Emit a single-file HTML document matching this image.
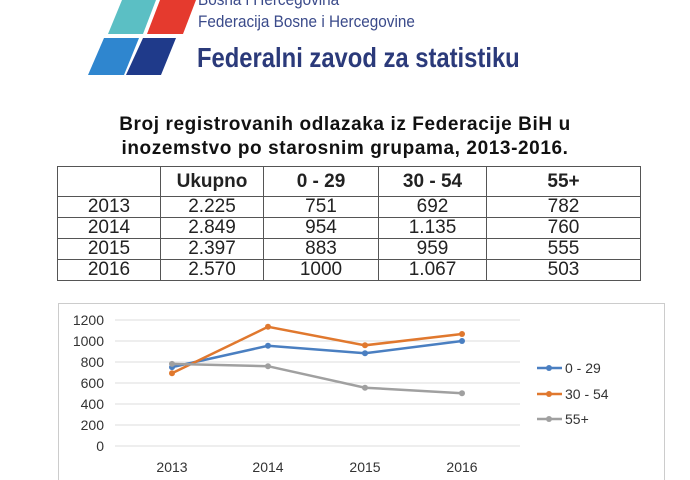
<!DOCTYPE html>
<html><head><meta charset="utf-8"><style>
body{margin:0;width:690px;height:480px;background:#fff;overflow:hidden;position:relative;font-family:"Liberation Sans",sans-serif}
.t{position:absolute;white-space:nowrap}
table{position:absolute;left:57px;top:166px;border-collapse:collapse;font-size:19px;color:#222}
td{border:1.5px solid #555;text-align:center;padding:0;height:20px;line-height:20px}
tr.h td{height:29px;font-weight:bold}
</style></head><body>
<svg width="690" height="80" style="position:absolute;left:0;top:0">
<polygon points="122,0 156,0 143,34 108,34" fill="#5bbfc4"/>
<polygon points="160,0 196,0 183,34 147,34" fill="#e53a2e"/>
<polygon points="104,38 139,38 124,75 88,75" fill="#2f86cf"/>
<polygon points="143,38 176,38 161,75 126,75" fill="#1f3a8a"/>
</svg>
<div class="t" style="left:198px;top:-10px;font-size:17px;color:#3a4a8a;transform:scaleX(0.9);transform-origin:0 0">Bosna i Hercegovina</div>
<div class="t" style="left:198px;top:12px;font-size:17px;color:#3a4a8a;transform:scaleX(0.9);transform-origin:0 0">Federacija Bosne i Hercegovine</div>
<div class="t" style="left:197px;top:42px;font-size:28px;color:#2b3a7a;font-weight:bold;transform:scaleX(0.85);transform-origin:0 0">Federalni zavod za statistiku</div>
<div class="t" style="left:0;width:690px;text-align:center;top:113px;font-size:19px;font-weight:bold;color:#111;line-height:24px;letter-spacing:0.6px">Broj registrovanih odlazaka iz Federacije BiH u<br>inozemstvo po starosnim grupama, 2013-2016.</div>
<table>
<tr class="h"><td style="width:102px"></td><td style="width:102px">Ukupno</td><td style="width:114px">0 - 29</td><td style="width:107px">30 - 54</td><td style="width:153px">55+</td></tr>
<tr><td>2013</td><td>2.225</td><td>751</td><td>692</td><td>782</td></tr>
<tr><td>2014</td><td>2.849</td><td>954</td><td>1.135</td><td>760</td></tr>
<tr><td>2015</td><td>2.397</td><td>883</td><td>959</td><td>555</td></tr>
<tr><td>2016</td><td>2.570</td><td>1000</td><td>1.067</td><td>503</td></tr>
</table>
<svg width="690" height="480" style="position:absolute;left:0;top:0" font-family="Liberation Sans" font-size="14" fill="#333">
<rect x="58.5" y="303.5" width="606" height="180" fill="none" stroke="#ccc"/>
<g stroke="#ddd">
<line x1="115" x2="520" y1="320" y2="320"/><line x1="115" x2="520" y1="341" y2="341"/><line x1="115" x2="520" y1="362" y2="362"/><line x1="115" x2="520" y1="383" y2="383"/><line x1="115" x2="520" y1="404" y2="404"/><line x1="115" x2="520" y1="425" y2="425"/><line x1="115" x2="520" y1="446" y2="446"/>
</g>
<g text-anchor="end">
<text x="104" y="325">1200</text><text x="104" y="346">1000</text><text x="104" y="367">800</text><text x="104" y="388">600</text><text x="104" y="409">400</text><text x="104" y="430">200</text><text x="104" y="451">0</text>
</g>
<g text-anchor="middle">
<text x="172" y="472">2013</text><text x="268" y="472">2014</text><text x="365" y="472">2015</text><text x="462" y="472">2016</text>
</g>
<polyline points="172,367.1 268,345.8 365,353.3 462,341" fill="none" stroke="#4a7fc1" stroke-width="2.5"/>
<polyline points="172,373.3 268,326.8 365,345.3 462,334" fill="none" stroke="#e0782e" stroke-width="2.5"/>
<polyline points="172,363.9 268,366.2 365,387.7 462,393.2" fill="none" stroke="#a0a0a0" stroke-width="2.5"/>
<g fill="#4a7fc1"><circle cx="172" cy="367.1" r="3"/><circle cx="268" cy="345.8" r="3"/><circle cx="365" cy="353.3" r="3"/><circle cx="462" cy="341" r="3"/></g>
<g fill="#e0782e"><circle cx="172" cy="373.3" r="3"/><circle cx="268" cy="326.8" r="3"/><circle cx="365" cy="345.3" r="3"/><circle cx="462" cy="334" r="3"/></g>
<g fill="#a0a0a0"><circle cx="172" cy="363.9" r="3"/><circle cx="268" cy="366.2" r="3"/><circle cx="365" cy="387.7" r="3"/><circle cx="462" cy="393.2" r="3"/></g>
<line x1="537" x2="562" y1="368" y2="368" stroke="#4a7fc1" stroke-width="2.5"/><circle cx="549" cy="368" r="3" fill="#4a7fc1"/>
<line x1="537" x2="562" y1="394" y2="394" stroke="#e0782e" stroke-width="2.5"/><circle cx="549" cy="394" r="3" fill="#e0782e"/>
<line x1="537" x2="562" y1="419" y2="419" stroke="#a0a0a0" stroke-width="2.5"/><circle cx="549" cy="419" r="3" fill="#a0a0a0"/>
<text x="565" y="373">0 - 29</text><text x="565" y="399">30 - 54</text><text x="565" y="424">55+</text>
</svg>
</body></html>
